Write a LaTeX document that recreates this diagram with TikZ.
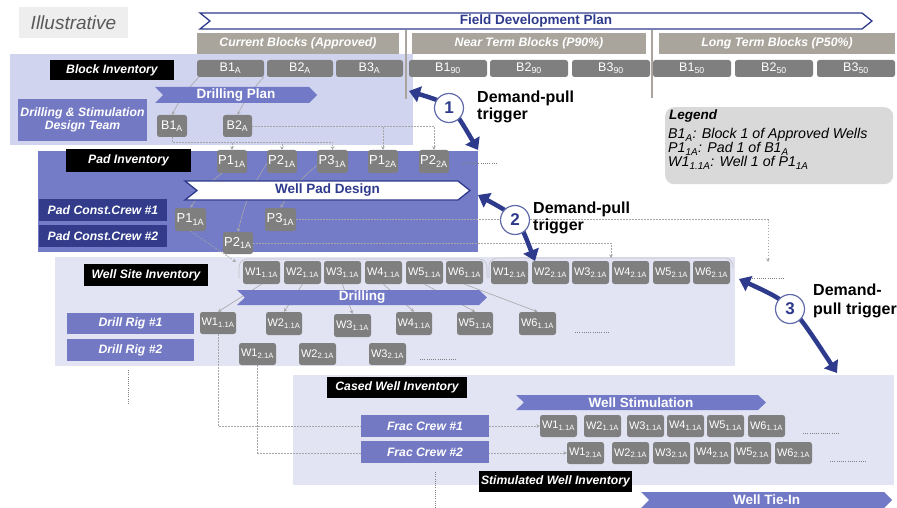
\documentclass[tikz,border=0pt]{standalone}
\usepackage{fontspec}
\setmainfont{Liberation Sans}
\usetikzlibrary{arrows.meta}
\definecolor{navy}{HTML}{2E3A8C}
\definecolor{chevblue}{HTML}{7279C6}
\definecolor{crewblue}{HTML}{7479C4}
\definecolor{padreg}{HTML}{747BC7}
\definecolor{padcrew}{HTML}{323C8B}
\definecolor{blockreg}{HTML}{D1D4EF}
\definecolor{lightreg}{HTML}{E2E4F4}
\definecolor{boxgray}{HTML}{7F7F7F}
\definecolor{hdrgray}{HTML}{A9A59C}
\definecolor{leggray}{HTML}{D9D9D9}
\definecolor{illgray}{HTML}{EEEEEE}
\definecolor{conngray}{HTML}{A6A6A6}
\definecolor{textgray}{HTML}{595959}
\newcommand\sbs[1]{\textsubscript{#1}}
\newcommand\bx[7]{\node[#1, minimum width={(#5-#3)*1pt}, minimum height={(#6-#4)*1pt}] (#2) at ({(#3+#5)/2},{(#4+#6)/2}) {#7};}
\newcommand\chev[8]{\path[#1] (#3,#4) -- ({#5-#7},#4) -- (#5,{(#4+#6)/2}) -- ({#5-#7},#6) -- (#3,#6) -- ({#3+#7},{(#4+#6)/2}) -- cycle; \node[#1 text] (#2) at ({(#3+#5)/2},{(#4+#6)/2}) {#8};}
\begin{document}
\begin{tikzpicture}[x=1pt,y=-1pt,
 gbox/.style={fill=boxgray, rounded corners=2.5pt, text=white, inner sep=0pt, font=\fontsize{12.5}{13}\selectfont},
 pbox/.style={gbox, font=\fontsize{13}{14}\selectfont},
 wbox/.style={gbox, font=\fontsize{11}{12}\selectfont},
 hdr/.style={fill=hdrgray, text=white, inner sep=0pt, font=\fontsize{12.3}{13}\bfseries\itshape},
 blk/.style={fill=black, text=white, inner sep=0pt, font=\fontsize{12.2}{13}\bfseries\itshape},
 crew/.style={fill=crewblue, text=white, inner sep=0pt, font=\fontsize{12.2}{12.5}\bfseries\itshape, align=center},
 padcrewbox/.style={crew, fill=padcrew},
 illus/.style={fill=illgray, text=textgray, inner sep=0pt, font=\fontsize{19}{21}\itshape},
 bluechev/.style={fill=chevblue},
 bluechev text/.style={text=white, inner sep=0pt, font=\fontsize{13.5}{14}\bfseries},
 whitechev/.style={fill=white, draw=navy, line width=1.3pt},
 whitechev text/.style={text=navy, inner sep=0pt, font=\fontsize{13.5}{14}\bfseries},
 conn/.style={draw=conngray, line width=0.6pt, -{Stealth[length=3.5pt,width=3.5pt]}},
 dconn/.style={conn, dash pattern=on 1.8pt off 1.2pt},
 dotline/.style={draw=gray, line width=0.9pt, dash pattern=on 1pt off 1.2pt},
 bracketline/.style={draw=conngray!70, line width=0.6pt, rounded corners=8pt},
 sepline/.style={draw=hdrgray, line width=1.5pt},
 dparrow/.style={draw=navy, line width=4.5pt, {Triangle[length=11pt,width=16pt]}-{Triangle[length=11pt,width=16pt]}},
 numcirc/.style={circle, draw=navy!75, fill=white, line width=1.2pt, minimum size=29pt, inner sep=0pt, text=navy, font=\fontsize{17}{17}\bfseries},
 dptext/.style={anchor=north west, align=left, inner sep=0pt, font=\fontsize{16}{17}\bfseries},
]
\useasboundingbox (0,0) rectangle (897,508);
% regions
\fill[blockreg] (10,54) rectangle (413,145);
\fill[padreg] (38,151) rectangle (478,252);
\fill[lightreg] (55,257) rectangle (735,366);
\fill[lightreg] (293,375) rectangle (894,485);
% illustrative
\bx{illus}{illus}{19}{7}{128}{38}{Illustrative}
% field development plan
\chev{whitechev}{fdp}{200}{13}{872}{29}{10}{Field Development Plan}
\draw[sepline] (406,30) -- (406,99);
\draw[sepline] (652,30) -- (652,98);
\bx{hdr}{hcur}{197}{33}{399}{54}{Current Blocks (Approved)}
\bx{hdr}{hnear}{412}{33}{646}{54}{Near Term Blocks (P90\%)}
\bx{hdr}{hlong}{659}{33}{895}{54}{Long Term Blocks (P50\%)}
\bx{gbox}{b1a}{197}{60}{264}{77}{B1\sbs{A}}
\bx{gbox}{b2a}{267}{60}{333}{77}{B2\sbs{A}}
\bx{gbox}{b3a}{336}{60}{403}{77}{B3\sbs{A}}
\bx{gbox}{b190}{409}{60}{487}{77}{B1\sbs{90}}
\bx{gbox}{b290}{490}{60}{568}{77}{B2\sbs{90}}
\bx{gbox}{b390}{572}{60}{650}{77}{B3\sbs{90}}
\bx{gbox}{b150}{653}{60}{731}{77}{B1\sbs{50}}
\bx{gbox}{b250}{735}{60}{813}{77}{B2\sbs{50}}
\bx{gbox}{b350}{817}{60}{895}{77}{B3\sbs{50}}
% block inventory area
\bx{blk}{lblock}{50}{60}{174}{80}{Block Inventory}
\bx{crew}{dsteam}{18}{99}{147}{141}{Drilling \& Stimulation\\Design Team}
\bx{gbox}{sb1}{157}{115}{187}{137}{B1\sbs{A}}
\bx{gbox}{sb2}{223}{115}{252}{137}{B2\sbs{A}}
% pad inventory
\bx{pbox}{p11a}{217}{150}{247}{173}{P1\sbs{1A}}
\bx{pbox}{p21a}{267}{150}{297}{173}{P2\sbs{1A}}
\bx{pbox}{p31a}{317}{150}{348}{173}{P3\sbs{1A}}
\bx{pbox}{p12a}{368}{150}{398}{173}{P1\sbs{2A}}
\bx{pbox}{p22a}{419}{150}{449}{173}{P2\sbs{2A}}
\draw[dotline] (463,163) -- (498,163);
\bx{pbox}{sp11}{175}{208}{206}{231}{P1\sbs{1A}}
\bx{pbox}{sp31}{265}{208}{296}{231}{P3\sbs{1A}}
\bx{pbox}{sp21}{223}{232}{253}{254}{P2\sbs{1A}}
% well site inventory
\draw[bracketline] (239,278) -- (239,259) -- (487,259) -- (487,278);
\draw[bracketline] (489,278) -- (489,258) -- (733,258) -- (733,268);
\bx{wbox}{tw1}{243}{261}{280}{284}{W1\sbs{1.1A}}
\bx{wbox}{tw2}{284}{261}{321}{284}{W2\sbs{1.1A}}
\bx{wbox}{tw3}{324}{261}{361}{284}{W3\sbs{1.1A}}
\bx{wbox}{tw4}{365}{261}{402}{284}{W4\sbs{1.1A}}
\bx{wbox}{tw5}{406}{261}{443}{284}{W5\sbs{1.1A}}
\bx{wbox}{tw6}{446}{261}{483}{284}{W6\sbs{1.1A}}
\bx{wbox}{tv1}{491}{261}{528}{284}{W1\sbs{2.1A}}
\bx{wbox}{tv2}{532}{261}{569}{284}{W2\sbs{2.1A}}
\bx{wbox}{tv3}{572}{261}{609}{284}{W3\sbs{2.1A}}
\bx{wbox}{tv4}{612}{261}{649}{284}{W4\sbs{2.1A}}
\bx{wbox}{tv5}{653}{261}{690}{284}{W5\sbs{2.1A}}
\bx{wbox}{tv6}{693}{261}{730}{284}{W6\sbs{2.1A}}
\draw[dotline] (750,278) -- (785,278);
\bx{wbox}{bw1}{200}{312}{236}{334}{W1\sbs{1.1A}}
\bx{wbox}{bw2}{266}{312}{302}{335}{W2\sbs{1.1A}}
\bx{wbox}{bw3}{334}{314}{371}{337}{W3\sbs{1.1A}}
\bx{wbox}{bw4}{396}{312}{432}{335}{W4\sbs{1.1A}}
\bx{wbox}{bw5}{457}{312}{493}{335}{W5\sbs{1.1A}}
\bx{wbox}{bw6}{519}{312}{556}{335}{W6\sbs{1.1A}}
\draw[dotline] (575,332) -- (610,332);
\bx{wbox}{bv1}{239}{343}{276}{365}{W1\sbs{2.1A}}
\bx{wbox}{bv2}{299}{343}{336}{365}{W2\sbs{2.1A}}
\bx{wbox}{bv3}{369}{343}{406}{365}{W3\sbs{2.1A}}
\draw[dotline] (420,359) -- (456,359);
\draw[dotline] (128,370) -- (128,405);
% cased / stimulated wells
\bx{wbox}{sw1}{540}{415}{577}{437}{W1\sbs{1.1A}}
\bx{wbox}{sw2}{584}{415}{621}{437}{W2\sbs{1.1A}}
\bx{wbox}{sw3}{627}{415}{664}{437}{W3\sbs{1.1A}}
\bx{wbox}{sw4}{667}{415}{704}{437}{W4\sbs{1.1A}}
\bx{wbox}{sw5}{707}{415}{744}{437}{W5\sbs{1.1A}}
\bx{wbox}{sw6}{748}{415}{785}{437}{W6\sbs{1.1A}}
\draw[dotline] (803,433) -- (839,433);
\bx{wbox}{sx1}{567}{442}{604}{464}{W1\sbs{2.1A}}
\bx{wbox}{sx2}{612}{442}{649}{464}{W2\sbs{2.1A}}
\bx{wbox}{sx3}{653}{442}{690}{464}{W3\sbs{2.1A}}
\bx{wbox}{sx4}{694}{442}{731}{464}{W4\sbs{2.1A}}
\bx{wbox}{sx5}{734}{442}{771}{464}{W5\sbs{2.1A}}
\bx{wbox}{sx6}{775}{442}{812}{464}{W6\sbs{2.1A}}
\draw[dotline] (830,461) -- (866,461);
\draw[dotline] (435,472) -- (435,508);
% connectors
\draw[conn] ([xshift=2pt]b1a.south west) to[bend right=8] (sb1.north);
\draw[conn] ([xshift=-3pt]b2a.south west) to[bend right=8] (sb2.north);
\coordinate (bbus) at (172,142);
\draw[dconn] (sb1.south) -- (sb1.south |- bbus) -| (p11a.north);
\draw[dconn] (sb1.south) -- (sb1.south |- bbus) -| (p21a.north);
\draw[dconn] (sb1.south) -- (sb1.south |- bbus) -| (p31a.north);
\draw[dconn] (sb2.east) -| (p12a.north);
\draw[dconn] (sb2.east) -| (p22a.north);
\draw[conn] ([xshift=-10pt]p11a.south) to[bend right=10] (sp11.north);
\draw[conn] ([yshift=-2pt]p21a.west) to[bend right=10] (sp21.north);
\draw[conn] ([yshift=-4pt]p31a.west) to[bend right=10] (sp31.north);
\coordinate (d3) at (768,262);
\coordinate (d2) at (611,258);
\coordinate (d1) at (236,262);
\draw[dconn] (sp31.east) -| (d3);
\draw[dconn] (sp21.east) -| (d2);
\draw[dconn] (sp11.south) -- (d1);
\foreach \i in {1,...,6} {\draw[conn] (tw\i.south) -- (bw\i.north);}
\draw[dconn] (bw1.south) |- (sw1.west);
\draw[dconn] (bv1.south) |- (sx1.west);
% chevrons
\chev{bluechev}{dplan}{155}{87}{317}{103}{8}{Drilling Plan}
\chev{whitechev}{wpd}{185}{181}{470}{200}{12}{Well Pad Design}
\chev{bluechev}{drill}{237}{290}{487}{305}{8}{Drilling}
\chev{bluechev}{stim}{516}{395}{766}{410}{8}{Well Stimulation}
\chev{bluechev}{tiein}{641}{492}{892}{508}{8}{Well Tie-In}
% labels and crews
\bx{blk}{lpad}{66}{149}{191}{172}{Pad Inventory}
\bx{padcrewbox}{pc1}{39}{199}{167}{221}{Pad Const.Crew \#1}
\bx{padcrewbox}{pc2}{39}{225}{167}{247}{Pad Const.Crew \#2}
\bx{blk}{lwell}{84}{264}{208}{286}{Well Site Inventory}
\bx{crew}{rig1}{67}{313}{194}{334}{Drill Rig \#1}
\bx{crew}{rig2}{67}{339}{194}{361}{Drill Rig \#2}
\bx{blk}{lcased}{327}{377}{467}{398}{Cased Well Inventory}
\bx{crew}{frac1}{361}{415}{489}{437}{Frac Crew \#1}
\bx{crew}{frac2}{361}{441}{489}{463}{Frac Crew \#2}
\bx{blk}{lstim}{479}{471}{632}{492}{Stimulated Well Inventory}
% legend
\node[fill=leggray, rounded corners=9pt, minimum width=228pt, minimum height=77pt, anchor=north west, inner sep=0pt] (legend) at (665,107) {};
\node[anchor=west, inner sep=0pt, font=\fontsize{13.5}{14}\bfseries\itshape] (legtitle) at (669,116) {Legend};
\node[anchor=north west, align=left, inner sep=0pt, font=\fontsize{14.2}{14}\itshape] (legtext) at (668,128.5) {B1\sbs{A}: Block 1 of Approved Wells\\P1\sbs{1A}: Pad 1 of B1\sbs{A}\\W1\sbs{1.1A}: Well 1 of P1\sbs{1A}};
% demand-pull triggers
\coordinate (a1s) at (409,91); \coordinate (a1e) at (478,150);
\coordinate (a2s) at (478,195); \coordinate (a2e) at (535,261);
\coordinate (a3s) at (739,279); \coordinate (a3e) at (837,373);
\draw[dparrow] (a1s) .. controls (451,104) and (451,104) .. (a1e);
\draw[dparrow] (a2s) .. controls (518,217) and (518,217) .. (a2e);
\draw[dparrow] (a3s) .. controls (791,303) and (791,303) .. (a3e);
\node[numcirc] (c1) at (449,108) {1};
\node[numcirc] (c2) at (515,220) {2};
\node[numcirc] (c3) at (790,309) {3};
\node[dptext] (t1) at (477,90.5) {Demand-pull\\trigger};
\node[dptext] (t2) at (533,201.5) {Demand-pull\\trigger};
\node[dptext, font=\fontsize{16}{19}\bfseries] (t3) at (813,283.5) {Demand-\\pull trigger};
\end{tikzpicture}
\end{document}
